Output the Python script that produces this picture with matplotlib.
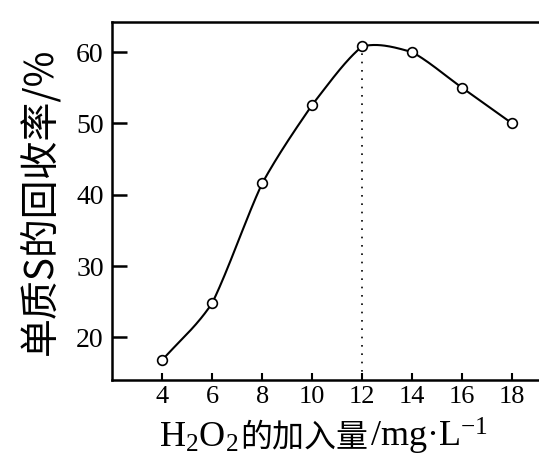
import numpy as np
import matplotlib
matplotlib.use('Agg')
import matplotlib.pyplot as plt
from matplotlib.offsetbox import TextArea, HPacker, AnnotationBbox

plt.rcParams['mathtext.fontset'] = 'custom'
plt.rcParams['mathtext.rm'] = 'Liberation Serif'
plt.rcParams['mathtext.it'] = 'Liberation Serif:italic'

# H2O2 加入量 (mg/L) 与 单质S回收率 (%)
h2o2 = [4, 6, 8, 10, 12, 14, 16, 18]
recovery = [16.8, 24.8, 41.6, 52.6, 60.8, 60.0, 55.0, 50.0]
x_ticks = [4, 6, 8, 10, 12, 14, 16, 18]
y_ticks = [20, 30, 40, 50, 60]


def smooth(x, y, n=40, w=0.55):
    '''Catmull-Rom 与折线按 w 混合, 只用来画曲线'''
    x = np.asarray(x, float)
    y = np.asarray(y, float)
    h = np.diff(x)
    m = np.zeros_like(y)
    m[1:-1] = (y[2:] - y[:-2]) / (x[2:] - x[:-2])
    m[0] = (y[1] - y[0]) / h[0]
    m[-1] = (y[-1] - y[-2]) / h[-1]
    xs, ys = [], []
    for i in range(len(x)-1):
        t = np.linspace(0, 1, n, endpoint=False)
        h00 = 2*t**3 - 3*t**2 + 1
        h10 = t**3 - 2*t**2 + t
        h01 = -2*t**3 + 3*t**2
        h11 = t**3 - t**2
        herm = h00*y[i] + h10*h[i]*m[i] + h01*y[i+1] + h11*h[i]*m[i+1]
        lin = y[i] + t*(y[i+1] - y[i])
        xs.append(x[i] + t*h[i])
        ys.append(lin + w*(herm - lin))
    xs.append([x[-1]])
    ys.append([y[-1]])
    return np.concatenate(xs), np.concatenate(ys)


fig = plt.figure(figsize=(5.39, 4.62), dpi=100)
ax = fig.add_axes([0.208, 0.177, 0.835, 0.775])

sx, sy = smooth(h2o2, recovery)
ax.plot(sx, sy, color='black', lw=1.5, zorder=3)
ax.plot(h2o2, recovery, 'o', ms=7, mfc='white', mec='black', mew=1.2, zorder=4)
ax.plot([12, 12], [14, recovery[4]], color='black', lw=1.2, ls=(0, (1, 4)), zorder=2)

ax.set_xlim(2, 20)
ax.set_ylim(14, 64.2)
ax.set_xticks(x_ticks)
ax.set_yticks(y_ticks)
ax.set_xticklabels([str(v) for v in x_ticks], fontfamily='Liberation Serif', fontsize=19)
ax.set_yticklabels([str(v) for v in y_ticks], fontfamily='Liberation Serif', fontsize=20)
ax.tick_params(axis='y', direction='in', length=11, width=1.8, pad=6)
ax.tick_params(axis='x', direction='in', length=5, width=1.5, pad=4)
for s in ax.spines.values():
    s.set_linewidth(1.8)

ax.set_ylabel('单质S的回收率/%', fontsize=28, family=['Noto Sans CJK SC', 'DejaVu Sans'], labelpad=11)

# x 轴标题: 分段拼接 (mathtext 不会回退到中文字体)
parts = [
    TextArea(r'H$_2$O$_2$', textprops=dict(fontsize=26, family='Liberation Serif')),
    TextArea('的加入量', textprops=dict(fontsize=23, family='Noto Sans CJK SC')),
    TextArea(r'/mg·L$^{-1}$', textprops=dict(fontsize=26, family='Liberation Serif')),
]
box = HPacker(children=parts, pad=0, sep=1, align='baseline')
ab = AnnotationBbox(box, (0.60, 0.055), xycoords='figure fraction', frameon=False,
                    box_alignment=(0.5, 0.5))
fig.add_artist(ab)

fig.savefig('out.png', dpi=100)
